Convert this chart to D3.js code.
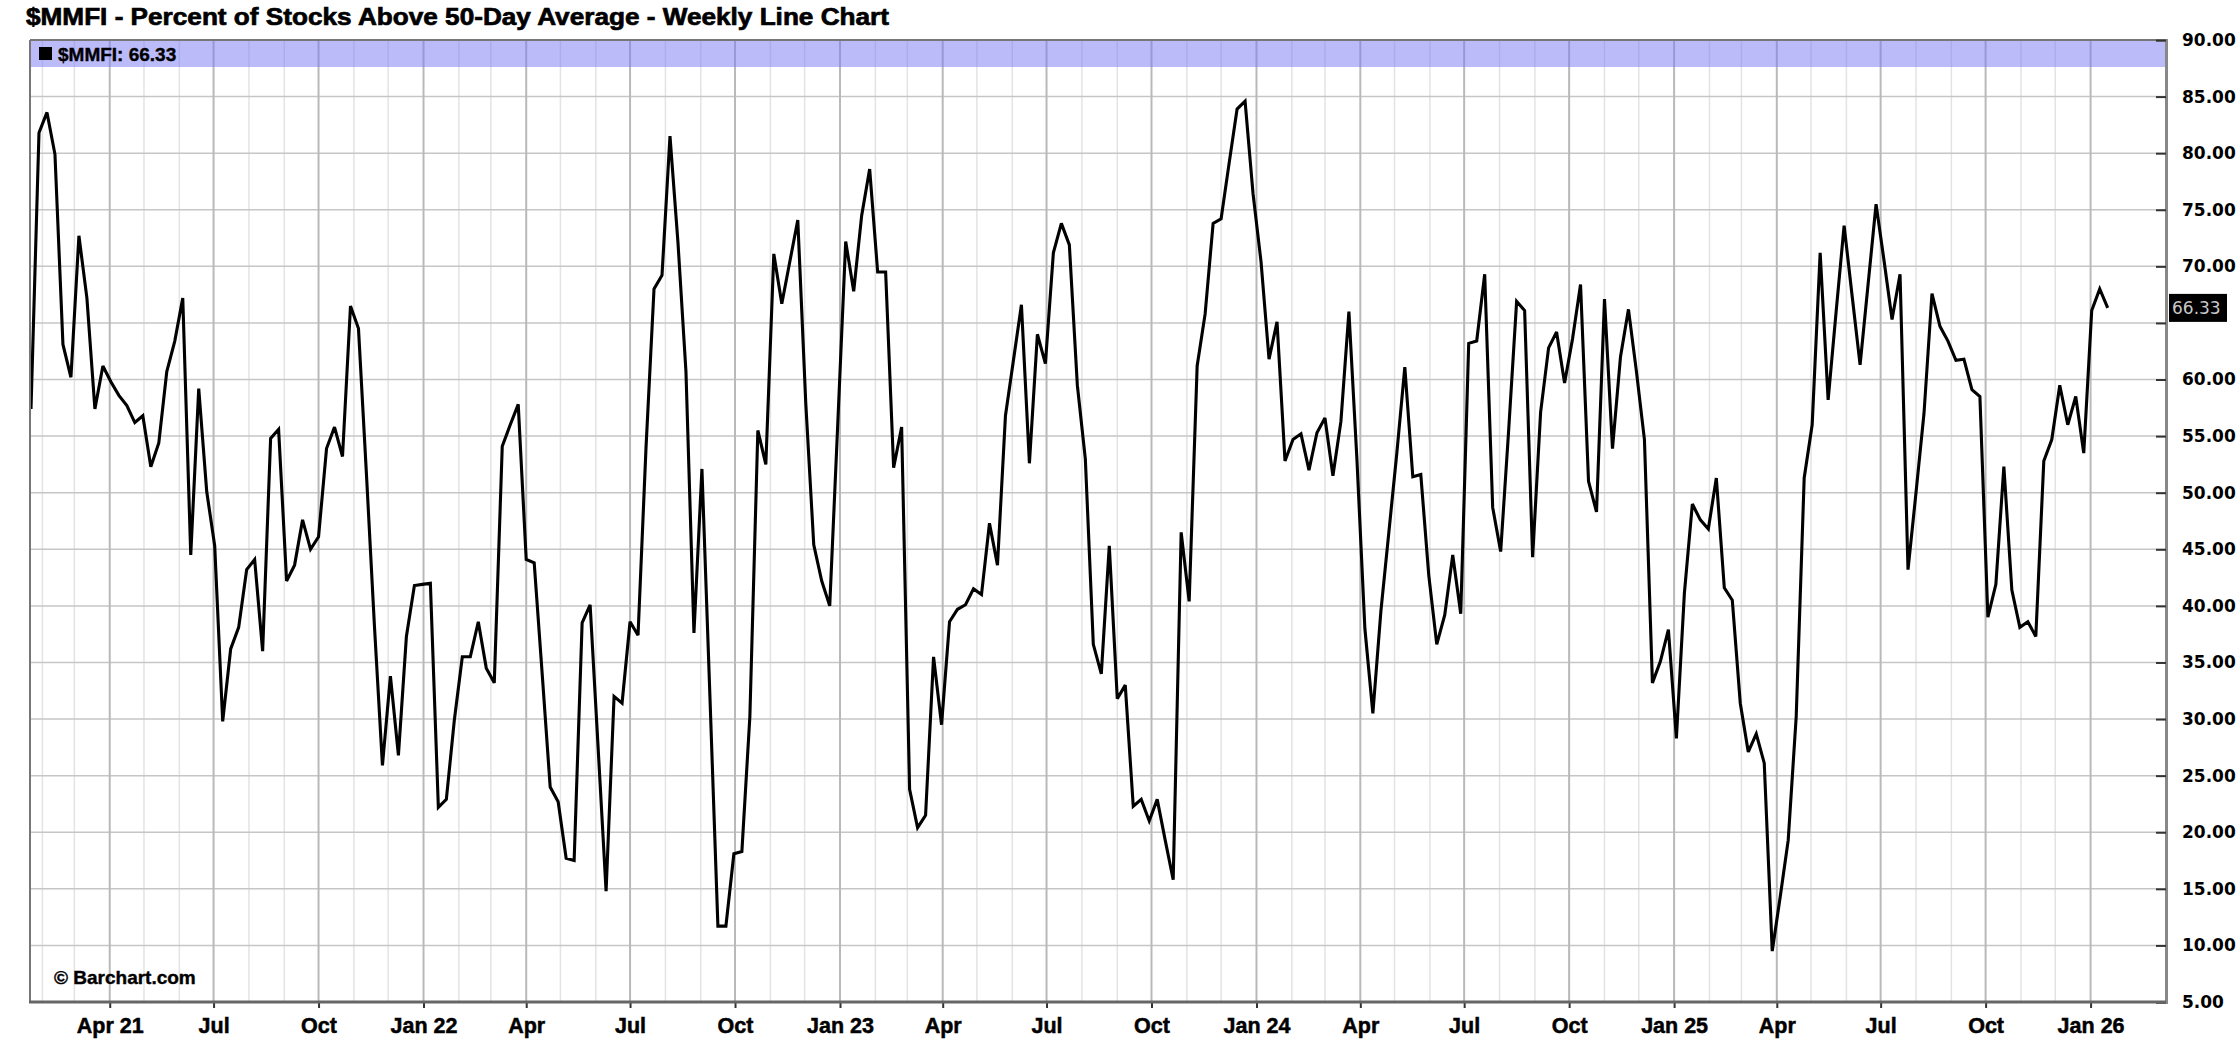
<!DOCTYPE html>
<html><head><meta charset="utf-8">
<script src="https://cdn.jsdelivr.net/npm/d3@7"></script>
<style>body{margin:0;background:#fff;} svg{display:block;}</style>
</head><body>
<svg id="chart" width="2240" height="1055"></svg>
<script>
const title = "$MMFI - Percent of Stocks Above 50-Day Average - Weekly Line Chart";
const symbol = "$MMFI";
const copyright = "© Barchart.com";
const firstWeek = "2021-01-22";
const lastWeek = "2026-01-16";
const values = [
 57.4,81.8,83.6,79.9,63.1,60.2,72.7,67.2,57.4,61.2,
 59.8,58.6,57.7,56.2,56.8,52.3,54.4,60.7,63.4,67.2,
 44.5,59.2,50.1,45.3,29.8,36.2,38.1,43.2,44.1,36.0,
 54.8,55.6,42.2,43.6,47.6,45.0,46.1,53.9,55.8,53.2,
 66.5,64.5,51.6,38.2,25.9,33.8,26.8,37.3,41.8,41.9,
 42.0,22.2,22.9,29.9,35.5,35.5,38.6,34.5,33.2,54.1,
 56.0,57.8,44.1,43.8,34.0,24.0,22.7,17.7,17.5,38.5,
 40.1,27.5,14.8,32.0,31.4,38.6,37.4,54.0,68.0,69.2,
 81.5,72.1,60.7,37.6,52.1,32.0,11.7,11.7,18.1,18.3,
 30.2,55.5,52.5,71.1,66.7,70.4,74.1,57.9,45.4,42.2,
 40.0,56.0,72.2,67.8,74.5,78.6,69.5,69.5,52.2,55.8,
 23.8,20.4,21.5,35.5,29.5,38.6,39.7,40.1,41.5,41.0,
 47.3,43.6,56.8,61.7,66.6,52.6,64.0,61.4,71.2,73.8,
 71.9,59.5,53.0,36.6,34.0,45.3,31.8,33.0,22.3,22.9,
 21.0,22.9,19.3,15.8,46.5,40.4,61.2,65.8,73.8,74.2,
 79.1,83.9,84.6,76.4,70.4,61.8,65.1,52.8,54.7,55.2,
 52.0,55.3,56.6,51.5,56.3,66.0,53.0,38.0,30.5,39.5,
 46.5,53.5,61.1,51.4,51.6,42.7,36.6,39.2,44.5,39.3,
 63.2,63.4,69.3,48.7,44.8,55.5,66.9,66.1,44.3,57.1,
 62.8,64.2,59.7,63.6,68.4,51.0,48.3,67.1,53.9,62.0,
 66.2,60.7,54.7,33.2,35.1,37.9,28.3,41.1,49.0,47.6,
 46.8,51.3,41.6,40.5,31.4,27.1,28.7,26.1,9.5,14.3,
 19.3,30.2,51.3,56.0,71.2,58.2,66.0,73.6,67.4,61.3,
 68.4,75.5,70.5,65.3,69.3,43.2,50.0,57.0,67.6,64.7,
 63.4,61.7,61.8,59.1,58.5,39.0,41.9,52.3,41.4,38.1,
 38.6,37.3,52.8,54.7,59.5,56.0,58.5,53.5,66.1,68.0,
 66.33
];
const xTickDates = ["2021-04-01","2021-07-01","2021-10-01","2022-01-01","2022-04-01","2022-07-01","2022-10-01",
 "2023-01-01","2023-04-01","2023-07-01","2023-10-01","2024-01-01","2024-04-01","2024-07-01","2024-10-01",
 "2025-01-01","2025-04-01","2025-07-01","2025-10-01","2026-01-01"];
const xTickLabels = ["Apr 21","Jul","Oct","Jan 22","Apr","Jul","Oct","Jan 23","Apr","Jul","Oct","Jan 24",
 "Apr","Jul","Oct","Jan 25","Apr","Jul","Oct","Jan 26"];
const gridMonthStart = "2021-02-01";
const gridMonthEnd = "2026-01-02";
const yTicks = [5,10,15,20,25,30,35,40,45,50,55,60,65,70,75,80,85,90];

const parse = d3.timeParse("%Y-%m-%d");
const dates = d3.timeFriday.range(parse(firstWeek), d3.timeDay.offset(parse(lastWeek), 1));
const data = dates.map((d, i) => ({date: d, value: values[i]}));

const plot = {left: 30, right: 2166, top: 40, bottom: 1002};
const x = d3.scaleTime().domain([parse(firstWeek), parse(lastWeek)]).range([31, 2107.7]);
const y = d3.scaleLinear().domain([5, 90]).range([plot.bottom, plot.top]);

const svg = d3.select("#chart");
const FONT = "'Liberation Sans', Arial, sans-serif";

// title
svg.append("text").attr("x", 26).attr("y", 25)
  .attr("font-family", FONT).attr("font-weight", "bold").attr("font-size", 24)
  .attr("textLength", 863).attr("lengthAdjust", "spacingAndGlyphs")
  .attr("fill", "#000").attr("stroke", "#000").attr("stroke-width", 0.7).text(title);

// plot background
svg.append("rect").attr("x", plot.left).attr("y", plot.top)
  .attr("width", plot.right - plot.left).attr("height", plot.bottom - plot.top).attr("fill", "#fff");

// monthly gridlines
const months = d3.timeMonth.range(parse(gridMonthStart), parse(gridMonthEnd));
const quarterSet = new Set(xTickDates);
const fmt = d3.timeFormat("%Y-%m-%d");
svg.append("g").selectAll("line").data(months.filter(m => !quarterSet.has(fmt(m)))).join("line")
  .attr("x1", d => x(d)).attr("x2", d => x(d)).attr("y1", plot.top).attr("y2", plot.bottom)
  .attr("stroke", "#e3e3e3").attr("stroke-width", 1.5);
// horizontal gridlines
svg.append("g").selectAll("line").data(yTicks.filter(v => v > 5 && v < 90)).join("line")
  .attr("x1", plot.left).attr("x2", plot.right).attr("y1", d => y(d)).attr("y2", d => y(d))
  .attr("stroke", "#c6c6c6").attr("stroke-width", 1.5);
// quarter gridlines
svg.append("g").selectAll("line").data(xTickDates.map(parse)).join("line")
  .attr("x1", d => x(d)).attr("x2", d => x(d)).attr("y1", plot.top).attr("y2", plot.bottom)
  .attr("stroke", "#b9b9b9").attr("stroke-width", 2);

// legend band
svg.append("rect").attr("x", plot.left).attr("y", plot.top)
  .attr("width", plot.right - plot.left).attr("height", 27)
  .attr("fill", "rgb(120,120,245)").attr("fill-opacity", 0.5);
svg.append("rect").attr("x", 39).attr("y", 47).attr("width", 13).attr("height", 13).attr("fill", "#000");
svg.append("text").attr("x", 58).attr("y", 61)
  .attr("font-family", FONT).attr("font-weight", "bold").attr("font-size", 19)
  .attr("fill", "#000").attr("stroke", "#000").attr("stroke-width", 0.4)
  .text(symbol + ": " + values[values.length - 1].toFixed(2));

// copyright
svg.append("text").attr("x", 54).attr("y", 984)
  .attr("font-family", FONT).attr("font-weight", "bold").attr("font-size", 19)
  .attr("fill", "#000").attr("stroke", "#000").attr("stroke-width", 0.4).text(copyright);

// line
const line = d3.line().x(d => x(d.date)).y(d => y(d.value));
svg.append("path").datum(data).attr("d", line)
  .attr("fill", "none").attr("stroke", "#000").attr("stroke-width", 3.1)
  .attr("stroke-linejoin", "miter").attr("stroke-miterlimit", 3);

// borders
svg.append("line").attr("x1", plot.left).attr("x2", plot.right).attr("y1", plot.top).attr("y2", plot.top)
  .attr("stroke", "#777").attr("stroke-width", 2);
svg.append("line").attr("x1", plot.left).attr("x2", plot.left).attr("y1", plot.top).attr("y2", plot.bottom)
  .attr("stroke", "#777").attr("stroke-width", 2);

// last value
const last = values[values.length - 1];

// right axis (the last-value box covers the label under it)
const yAxis = d3.axisRight(y).tickValues(yTicks).tickSize(-10).tickPadding(16).tickFormat(d => d.toFixed(2));
const gy = svg.append("g").attr("transform", `translate(${plot.right},0)`).call(yAxis);
gy.select(".domain").attr("stroke", "#888").attr("stroke-width", 3);
gy.selectAll(".tick line").attr("stroke", "#333").attr("stroke-width", 2);
gy.selectAll(".tick text").attr("font-family", "'DejaVu Sans', sans-serif").attr("font-weight", "bold")
  .attr("font-size", 17).attr("fill", "#000")
  .style("display", d => Math.abs(y(d) - y(last)) < 24 ? "none" : null);

// bottom axis
const xAxis = d3.axisBottom(x).tickValues(xTickDates.map(parse)).tickSize(6).tickPadding(10)
  .tickFormat((d, i) => xTickLabels[i]);
const gx = svg.append("g").attr("transform", `translate(0,${plot.bottom})`).call(xAxis);
gx.select(".domain").remove();
gx.selectAll(".tick line").attr("stroke", "#333").attr("stroke-width", 2);
gx.selectAll(".tick text").attr("font-family", FONT).attr("font-weight", "bold")
  .attr("font-size", 21.5).attr("fill", "#000").attr("stroke", "#000").attr("stroke-width", 0.5);
svg.append("line").attr("x1", plot.left - 1).attr("x2", plot.right).attr("y1", plot.bottom).attr("y2", plot.bottom)
  .attr("stroke", "#666").attr("stroke-width", 3);

// last value box
svg.append("rect").attr("x", 2169).attr("y", y(last) - 14).attr("width", 58).attr("height", 28).attr("fill", "#000");
svg.append("text").attr("x", 2172).attr("y", y(last)).attr("dy", "0.36em")
  .attr("font-family", "'DejaVu Sans', sans-serif").attr("font-size", 17)
  .attr("fill", "#c8c8c8").text(last.toFixed(2));
</script>
</body></html>
